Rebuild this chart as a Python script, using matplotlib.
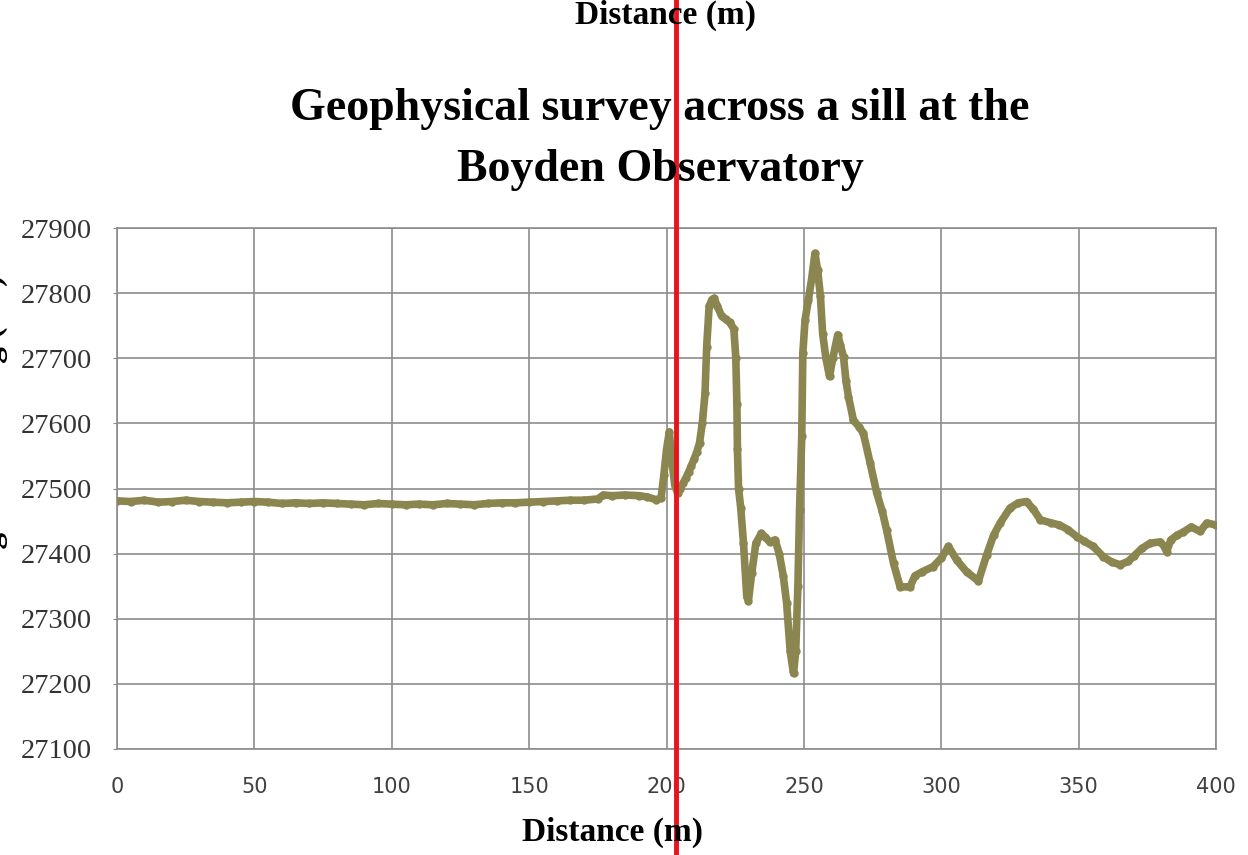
import matplotlib
matplotlib.use("Agg")
import matplotlib.pyplot as plt

# distance along the profile (m)
distance = [0, 5, 10, 15, 20, 25, 30, 35, 40, 45, 50, 55, 60, 65, 70, 75, 80,
            85, 90, 95, 100, 105, 110, 115, 120, 125, 130, 135, 140, 145, 150,
            155, 160, 165, 170, 175, 177, 180, 185, 190, 193, 196, 198, 199,
            200, 201, 202, 203, 204, 205, 206, 207, 208, 209, 210, 211, 212,
            213, 214, 214.6, 215.5, 216.5, 217.3, 218.5, 220, 221.5, 223,
            224.5, 225.2, 225.6, 225.8, 226.2, 227, 228, 229.2, 229.8, 231,
            232.5, 234.5, 236, 237.5, 239.5, 241, 242.5, 243.7, 245, 246.2,
            247, 247.8, 248.4, 249.2, 249.6, 250.4, 251.6, 252.8, 254, 255,
            256, 256.8, 258, 259.3, 260.5, 262.3, 263.3, 264.4, 265.3, 266.2,
            268, 270, 271.6, 274.1, 276.5, 278.5, 280.1, 282.6, 285, 288.6,
            290.4, 293, 297, 300, 302.6, 305.6, 309.2, 313.5, 316.5, 319,
            321.4, 325, 328, 331, 333.5, 336, 340, 343, 346, 349.3, 352,
            355.3, 359, 362, 365, 368, 370, 373, 376, 379.6, 381, 382, 383.5,
            385.7, 388, 391, 394.2, 396.6, 400]

# magnetic reading (nT)
reading = [27481, 27480, 27482, 27479, 27480, 27482, 27480, 27479, 27478,
           27479, 27480, 27479, 27477, 27478, 27477, 27478, 27477, 27476,
           27475, 27477, 27476, 27475, 27476, 27475, 27477, 27476, 27475,
           27477, 27478, 27478, 27479, 27480, 27481, 27482, 27482, 27484,
           27490, 27489, 27490, 27489, 27487, 27483, 27485, 27520, 27560,
           27587, 27540, 27505, 27493, 27500, 27508, 27516, 27525, 27535,
           27545, 27556, 27570, 27600, 27646, 27718, 27780, 27790, 27792,
           27780, 27765, 27760, 27755, 27745, 27700, 27630, 27560, 27500,
           27470, 27416, 27334, 27328, 27370, 27416, 27431, 27425, 27418,
           27421, 27400, 27365, 27324, 27250, 27216, 27250, 27350, 27467,
           27580, 27708, 27759, 27789, 27822, 27861, 27835, 27795, 27738,
           27700, 27672, 27700, 27736, 27720, 27702, 27665, 27641, 27605,
           27595, 27585, 27539, 27493, 27465, 27436, 27385, 27349, 27349,
           27366, 27372, 27380, 27393, 27411, 27390, 27372, 27358, 27398,
           27428, 27447, 27470, 27478, 27480, 27468, 27452, 27447, 27444,
           27437, 27426, 27419, 27411, 27395, 27387, 27383, 27388, 27396,
           27408, 27416, 27418, 27412, 27403, 27421, 27428, 27433, 27441,
           27434, 27447, 27444]

xticks = [0, 50, 100, 150, 200, 250, 300, 350, 400]
yticks = [27100, 27200, 27300, 27400, 27500, 27600, 27700, 27800, 27900]
marker_x = 203.5  # red line

fig = plt.figure(figsize=(12.48, 8.55), dpi=100)
ax = fig.add_axes([0.09375, 0.124, 0.8807, 0.6093])

ax.plot(distance, reading, "-o", color="#8b8650", lw=5.5, ms=5,
        solid_joinstyle="round", zorder=3)

ax.set_xlim(0, 400)
ax.set_ylim(27100, 27900)
ax.set_xticks(xticks)
ax.set_yticks(yticks)
ax.set_xticklabels([str(i) for i in xticks], fontsize=15, color="#404040",
                   family="DejaVu Sans")
ax.set_yticklabels([str(i) for i in yticks], fontsize=20.5, color="#333333",
                   family="Liberation Serif")
ax.tick_params(axis="x", length=0, pad=20)
ax.tick_params(axis="y", length=3, pad=15, color="#888888")

ax.grid(True, color="#8c8c8c", lw=1.2)
ax.set_axisbelow(True)
for s in ax.spines.values():
    s.set_color("#8c8c8c")
    s.set_linewidth(1.2)

# titles / labels
fig.text(0.529, 0.837, "Geophysical survey across a sill at the\nBoyden Observatory",
         ha="center", va="center", fontsize=33, fontweight="bold",
         family="Liberation Serif", linespacing=1.6)
fig.text(0.4904, 0.0269, "Distance (m)", ha="center", va="center",
         fontsize=24, fontweight="bold", family="Liberation Serif")
fig.text(0.5329, 0.982, "Distance (m)", ha="center", va="center",
         fontsize=24, fontweight="bold", family="Liberation Serif")
fig.text(-0.006, 0.49, "Magnetic reading (nT)", ha="center", va="center",
         rotation=90, fontsize=24, fontweight="bold", family="Liberation Serif")

# red vertical line across the whole figure
ax.axvline(marker_x, ymin=-0.25, ymax=1.5, color="#e8141c", lw=3.5,
           clip_on=False, zorder=5)

fig.savefig("out.png", dpi=100)
